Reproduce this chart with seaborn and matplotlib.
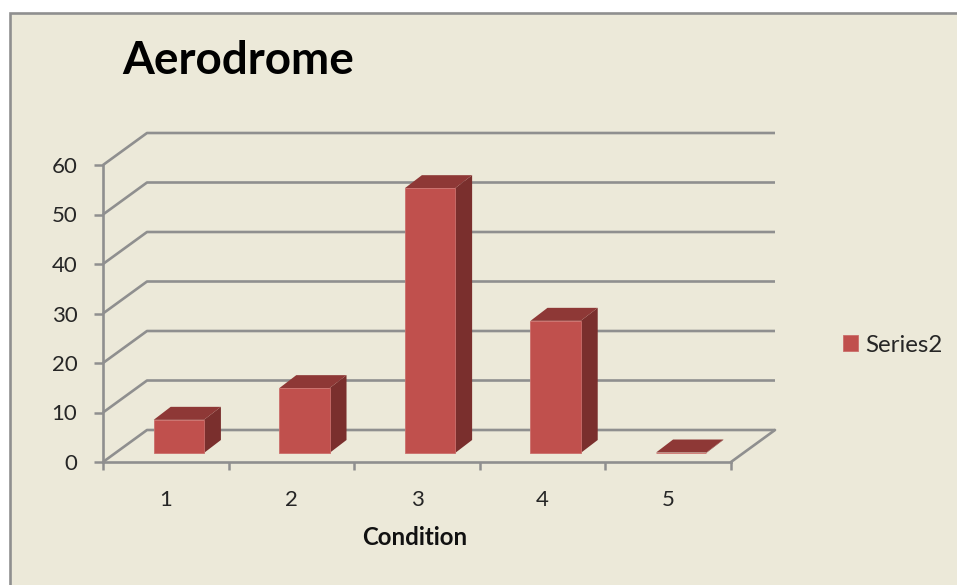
import pandas as pd
import numpy as np
import matplotlib
matplotlib.use("Agg")
import matplotlib.pyplot as plt
from matplotlib.patches import Polygon, Rectangle
from matplotlib.transforms import Affine2D, IdentityTransform
import seaborn as sns

conditions = ["1", "2", "3", "4", "5"]
aerodrome = [6.7, 13.1, 53.5, 26.7, 0.1]
y_ticks = [0, 10, 20, 30, 40, 50, 60]

BG = "#ECE9D9"
GREY = "#8F8F8F"
TEXT = "#262626"
FRONT = "#C0504D"
TOP = "#8E3836"
SIDE = "#7A2F2D"

sns.set_theme(style="white")
plt.rcParams["font.family"] = ["Lato", "DejaVu Sans"]

fig = plt.figure(figsize=(9.57, 5.85), dpi=100, facecolor="white")
fig.patches.append(Rectangle((9.5 / 957, -0.02), 1.0, (572 + 12) / 585,
                             transform=fig.transFigure, facecolor=BG,
                             edgecolor=GREY, linewidth=1.9, zorder=-1))

ax = fig.add_axes([103 / 957, (585 - 462) / 585, 628 / 957, 297 / 585])
ax.patch.set_alpha(0)

df = pd.DataFrame({"Condition": conditions, "Value": aerodrome})
sns.barplot(data=df, x="Condition", y="Value", color=FRONT, saturation=1,
            width=0.4, label="Series2", ax=ax)
ax.set_xlim(-0.5, 4.5)
ax.set_ylim(0, 60)
ax.set_yticks(y_ticks)
ax.set_xticks(np.arange(-0.5, 5), minor=True)
ax.tick_params(axis="x", which="major", length=0, pad=20, labelsize=16, labelcolor=TEXT)
ax.tick_params(axis="x", which="minor", length=6, width=1.8, color=GREY, bottom=True)
ax.tick_params(axis="y", length=6.5, width=1.8, color=GREY, left=True, pad=12,
               labelsize=16, labelcolor=TEXT)
for side in ["top", "right"]:
    ax.spines[side].set_visible(False)
for side in ["left", "bottom"]:
    ax.spines[side].set_color(GREY)
    ax.spines[side].set_linewidth(1.9)

ax.set_xlabel("Condition", fontweight="bold", fontsize=17.3, color="#111111")
ax.xaxis.set_label_coords(0.497, -0.28)
ax.xaxis.label.set_verticalalignment("baseline")
ax.set_ylabel("")
ax.set_title("Aerodrome", loc="left", x=19 / 628, y=1.306, pad=0, fontsize=33,
             fontweight="bold", color="black", va="baseline")

# pretend 3D: back wall and floor, offsets in pixels
wall_dx, wall_dy = 44, 32
x0, x1 = ax.get_xlim()
pix = IdentityTransform()
for v in y_ticks:
    (px0, py), (px1, _) = ax.transData.transform([(x0, v), (x1, v)])
    ax.plot([px0, px0 + wall_dx, px1 + wall_dx], [py, py + wall_dy, py + wall_dy],
            transform=pix, color=GREY, lw=1.9, zorder=0.5, clip_on=False,
            solid_capstyle="butt")
(px1, py0) = ax.transData.transform((x1, 0))
ax.plot([px1, px1 + wall_dx], [py0, py0 + wall_dy], transform=pix, color=GREY,
        lw=1.9, zorder=0.5, clip_on=False)

# bars stand half way in the floor, with side and top faces
bar_dx, bar_dy = 13, 9
depth_dx, depth_dy = 17, 13
shift = Affine2D().translate(bar_dx, bar_dy)
for bar in ax.containers[0]:
    box = bar.get_window_extent()
    left, right = box.x0 + bar_dx, box.x1 + bar_dx
    low, high = box.y0 + bar_dy, box.y1 + bar_dy
    bar.set_transform(ax.transData + shift)
    bar.set_clip_on(False)
    bar.set_zorder(3)
    bar.set_edgecolor("#CB6E6B")
    bar.set_linewidth(0.6)
    ax.add_patch(Polygon([(right, low), (right + depth_dx, low + depth_dy),
                          (right + depth_dx, high + depth_dy), (right, high)],
                         transform=pix, facecolor=SIDE, edgecolor="none",
                         zorder=2, clip_on=False))
    ax.add_patch(Polygon([(left, high), (right, high),
                          (right + depth_dx, high + depth_dy),
                          (left + depth_dx, high + depth_dy)],
                         transform=pix, facecolor=TOP, edgecolor="none",
                         zorder=2, clip_on=False))

leg = ax.legend(loc="center left", bbox_to_anchor=(826 / 957, (585 - 345) / 585),
                bbox_transform=fig.transFigure, frameon=False, fontsize=17.3,
                handlelength=0.63, handleheight=0.63, handletextpad=0.29,
                borderpad=0.2, labelcolor=TEXT)

fig.savefig("out.png", dpi=100, facecolor=fig.get_facecolor())
